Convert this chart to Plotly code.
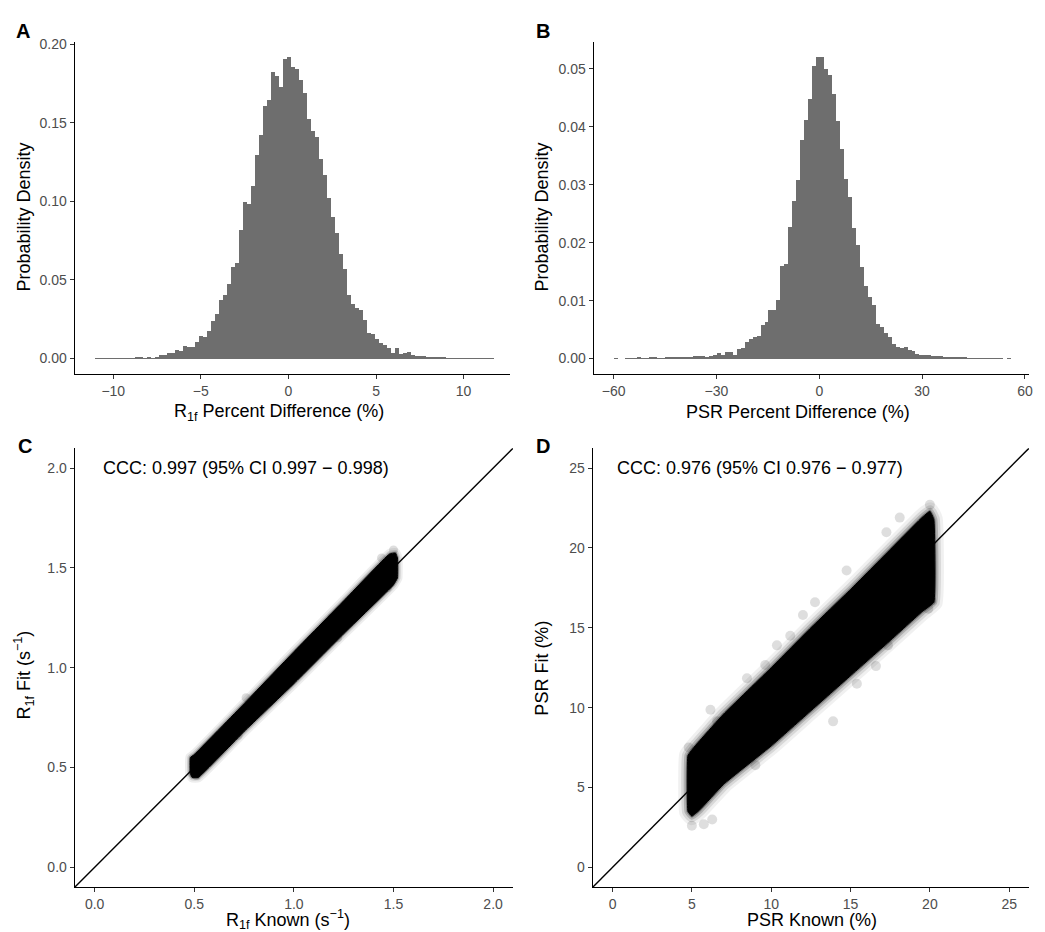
import plotly.graph_objects as go

# -----------------------------
# DATA
# -----------------------------

# Panel A: R1f percent difference histogram (100 bins)
HIST_A_START = -11.06
HIST_A_WIDTH = 0.228
HIST_A_DENSITY = [
    0.0001, 0.0001, 0.0001, 0.0001, 0.0002, 0.0003, 0.0003, 0.0002, 0.0004, 0.0003,
    0.0005, 0.0005, 0.0004, 0.0005, 0.0004, 0.0008, 0.0023, 0.0023, 0.0036, 0.0036,
    0.0054, 0.0050, 0.0084, 0.0076, 0.0078, 0.0105, 0.0145, 0.0140, 0.0175, 0.0242,
    0.0282, 0.0372, 0.0404, 0.0475, 0.0585, 0.0610, 0.0820, 0.0995, 0.0984, 0.1100,
    0.1295, 0.1426, 0.1610, 0.1650, 0.1825, 0.1800, 0.1727, 0.1910, 0.1920, 0.1857,
    0.1846, 0.1773, 0.1693, 0.1525, 0.1451, 0.1411, 0.1272, 0.1169, 0.1022, 0.0904,
    0.0801, 0.0669, 0.0572, 0.0404, 0.0349, 0.0320, 0.0311, 0.0248, 0.0164, 0.0158,
    0.0126, 0.0101, 0.0090, 0.0069, 0.0034, 0.0067, 0.0032, 0.0038, 0.0044, 0.0025,
    0.0017, 0.0020, 0.0015, 0.0012, 0.0010, 0.0008, 0.0006, 0.0005, 0.0004, 0.0004,
    0.0003, 0.0003, 0.0002, 0.0002, 0.0002, 0.0001, 0.0001, 0.0001, 0.0001, 0.0001,
]

# Panel B: PSR percent difference histogram (100 bins)
HIST_B_START = -60.1
HIST_B_WIDTH = 1.159
HIST_B_DENSITY = [
    0.0001, 0.0000, 0.0000, 0.0001, 0.0001, 0.0001, 0.0002, 0.0001, 0.0001, 0.0002,
    0.0002, 0.0001, 0.0001, 0.0002, 0.0002, 0.0002, 0.0003, 0.0003, 0.0003, 0.0003,
    0.0004, 0.0004, 0.0005, 0.0002, 0.0005, 0.0007, 0.0010, 0.0007, 0.0011, 0.0011,
    0.0007, 0.0017, 0.0019, 0.0029, 0.0034, 0.0038, 0.0040, 0.0058, 0.0063, 0.0084,
    0.0085, 0.0102, 0.0160, 0.0164, 0.0228, 0.0273, 0.0308, 0.0377, 0.0413, 0.0449,
    0.0506, 0.0521, 0.0521, 0.0500, 0.0490, 0.0458, 0.0410, 0.0363, 0.0310, 0.0280,
    0.0225, 0.0197, 0.0159, 0.0126, 0.0106, 0.0093, 0.0060, 0.0055, 0.0045, 0.0037,
    0.0025, 0.0021, 0.0019, 0.0020, 0.0015, 0.0013, 0.0008, 0.0007, 0.0006, 0.0007,
    0.0005, 0.0004, 0.0004, 0.0003, 0.0003, 0.0002, 0.0002, 0.0002, 0.0002, 0.0001,
    0.0001, 0.0001, 0.0001, 0.0001, 0.0001, 0.0001, 0.0001, 0.0001, 0.0000, 0.0001,
]

# Panel C: outline of the dense R1f known/fit point cloud
C_CLOUD_KNOWN = [0.48, 0.50, 0.75, 1.00, 1.25, 1.48, 1.51, 1.52,
                 1.52, 1.50, 1.25, 1.00, 0.75, 0.52, 0.49, 0.48]
C_CLOUD_FIT = [0.55, 0.565, 0.82, 1.08, 1.335, 1.57, 1.575, 1.55,
               1.45, 1.415, 1.17, 0.92, 0.68, 0.45, 0.45, 0.47]
C_OUT_KNOWN = [0.49, 0.51, 0.76, 0.72, 1.19, 1.22, 1.50, 1.47, 1.44]
C_OUT_FIT = [0.47, 0.46, 0.85, 0.66, 1.25, 1.15, 1.59, 1.40, 1.55]

# Panel D: outline of the dense PSR known/fit point cloud
D_CLOUD_KNOWN = [4.75, 5.2, 7.0, 10.0, 12.5, 15.0, 17.5, 19.5, 20.0, 20.25,
                 20.25, 19.5, 17.5, 15.0, 12.5, 10.0, 7.0, 5.5, 5.0, 4.75]
D_CLOUD_FIT = [7.0, 7.6, 9.6, 12.5, 15.0, 17.4, 19.9, 21.9, 22.3, 21.8,
               16.6, 16.0, 14.2, 12.0, 9.8, 7.6, 5.2, 3.6, 3.2, 3.5]
D_OUT_KNOWN = [6.17, 6.59, 8.47, 9.62, 10.36, 11.2, 12.0, 12.76, 14.75, 17.26,
               18.1, 20.0, 20.1, 17.36, 16.6, 15.4, 13.9, 11.8, 7.0, 6.28,
               5.75, 5.0, 4.8, 19.9, 14.1, 9.0]
D_OUT_FIT = [9.87, 9.14, 11.84, 12.67, 13.9, 14.5, 15.8, 16.6, 18.59, 20.98,
             21.9, 22.7, 16.7, 13.9, 12.6, 11.5, 9.14, 9.55, 7.06, 3.0,
             2.7, 2.6, 7.5, 16.2, 12.0, 6.4]

CCC_C = "CCC: 0.997 (95% CI 0.997 \u2212 0.998)"
CCC_D = "CCC: 0.976 (95% CI 0.976 \u2212 0.977)"

# -----------------------------
# STYLE
# -----------------------------

W, H = 1045, 932
FONT = "Liberation Sans, Arial, sans-serif"
BAR_GREY = "#6e6e6e"
TITLE_SIZE = 18
TICK_SIZE = 14


def px(x):
    return x / W


def py(y):
    return 1 - y / H


def axis_style(domain, rng, tickvals, fmt, anchor):
    return dict(
        domain=domain, range=rng, tickvals=tickvals, tickformat=fmt, anchor=anchor,
        showline=True, linecolor="black", linewidth=1.2,
        ticks="outside", ticklen=4, tickwidth=1, tickcolor="#333333",
        tickfont=dict(size=TICK_SIZE, color="#4d4d4d", family=FONT),
        showgrid=False, zeroline=False, fixedrange=True,
    )


fig = go.Figure()

# histograms
centers_a = [HIST_A_START + HIST_A_WIDTH * (i + 0.5) for i in range(len(HIST_A_DENSITY))]
centers_b = [HIST_B_START + HIST_B_WIDTH * (i + 0.5) for i in range(len(HIST_B_DENSITY))]

fig.add_trace(go.Bar(x=centers_a, y=HIST_A_DENSITY, width=HIST_A_WIDTH,
                     marker=dict(color=BAR_GREY, line_width=0),
                     xaxis="x", yaxis="y", showlegend=False))
fig.add_trace(go.Bar(x=centers_b, y=HIST_B_DENSITY, width=HIST_B_WIDTH,
                     marker=dict(color=BAR_GREY, line_width=0),
                     xaxis="x2", yaxis="y2", showlegend=False))

# outlying points (drawn first, under the dense cloud)
for xs, ys, size, ax, ay in [(C_OUT_KNOWN, C_OUT_FIT, 9, "x3", "y3"),
                             (D_OUT_KNOWN, D_OUT_FIT, 10, "x4", "y4")]:
    fig.add_trace(go.Scatter(x=xs, y=ys, mode="markers",
                             marker=dict(size=size, color="rgba(0,0,0,0.13)", line_width=0),
                             xaxis=ax, yaxis=ay, showlegend=False))

# dense clouds: soft halo layers then solid core
for xs, ys, halos, ax, ay in [(C_CLOUD_KNOWN, C_CLOUD_FIT, [(10, 0.07), (6, 0.12), (3, 0.25)], "x3", "y3"),
                              (D_CLOUD_KNOWN, D_CLOUD_FIT, [(18, 0.06), (12, 0.1), (7, 0.18), (3, 0.3)], "x4", "y4")]:
    cx, cy = xs + xs[:1], ys + ys[:1]
    for width, alpha in halos:
        fig.add_trace(go.Scatter(x=cx, y=cy, mode="lines",
                                 line=dict(color=f"rgba(0,0,0,{alpha})", width=width, shape="spline", smoothing=0.3),
                                 xaxis=ax, yaxis=ay, showlegend=False, hoverinfo="skip"))
    fig.add_trace(go.Scatter(x=cx, y=cy, mode="lines", fill="toself", fillcolor="black",
                             line=dict(color="black", width=1, shape="spline", smoothing=0.3),
                             xaxis=ax, yaxis=ay, showlegend=False, hoverinfo="skip"))

# identity lines
C_RANGE = [-0.1, 2.1]
D_RANGE = [-1.25, 26.25]
fig.add_trace(go.Scatter(x=C_RANGE, y=C_RANGE, mode="lines",
                         line=dict(color="black", width=1.4),
                         xaxis="x3", yaxis="y3", showlegend=False))
fig.add_trace(go.Scatter(x=D_RANGE, y=D_RANGE, mode="lines",
                         line=dict(color="black", width=1.4),
                         xaxis="x4", yaxis="y4", showlegend=False))

dom_top = [py(370), py(36)]
dom_bot = [py(887), py(445)]

fig.update_layout(
    width=W, height=H,
    margin=dict(l=0, r=0, t=0, b=0),
    paper_bgcolor="white", plot_bgcolor="white",
    font=dict(family=FONT, color="black"),
    bargap=0,
    xaxis=axis_style([px(75), px(512)], [-12.2, 12.65], [-10, -5, 0, 5, 10], "d", "y"),
    yaxis=axis_style(dom_top, [-0.0096, 0.2016], [0, 0.05, 0.10, 0.15, 0.20], ".2f", "x"),
    xaxis2=axis_style([px(596), px(1033)], [-65.8, 61.2], [-60, -30, 0, 30, 60], "d", "y2"),
    yaxis2=axis_style(dom_top, [-0.0026, 0.0547], [0, 0.01, 0.02, 0.03, 0.04, 0.05], ".2f", "x2"),
    xaxis3=axis_style([px(75), px(515)], C_RANGE, [0, 0.5, 1.0, 1.5, 2.0], ".1f", "y3"),
    yaxis3=axis_style(dom_bot, C_RANGE, [0, 0.5, 1.0, 1.5, 2.0], ".1f", "x3"),
    xaxis4=axis_style([px(595), px(1033)], D_RANGE, [0, 5, 10, 15, 20, 25], "d", "y4"),
    yaxis4=axis_style(dom_bot, D_RANGE, [0, 5, 10, 15, 20, 25], "d", "x4"),
)

annotations = []

# panel letters
for letter, x, y in [("A", 14, 25), ("B", 536, 25), ("C", 16, 443), ("D", 536, 443)]:
    annotations.append(dict(text=f"<b>{letter}</b>", x=px(x), y=py(y), xref="paper", yref="paper",
                            xanchor="left", yanchor="middle", showarrow=False,
                            font=dict(size=20, color="black", family=FONT)))

# axis titles
x_titles = [
    ("R<sub>1f</sub> Percent Difference (%)", 280, 409),
    ("PSR Percent Difference (%)", 801, 409),
    ("R<sub>1f</sub> Known (s<sup>\u22121</sup>)", 289, 919),
    ("PSR Known (%)", 815, 920),
]
for text, x, y in x_titles:
    annotations.append(dict(text=text, x=px(x), y=py(y), xref="paper", yref="paper",
                            xanchor="center", yanchor="middle", showarrow=False,
                            font=dict(size=TITLE_SIZE, color="black", family=FONT)))

y_titles = [
    ("Probability Density", 24, 212),
    ("Probability Density", 544, 212),
    ("R<sub>1f</sub> Fit (s<sup>\u22121</sup>)", 24, 673),
    ("PSR Fit (%)", 544, 666),
]
for text, x, y in y_titles:
    annotations.append(dict(text=text, x=px(x), y=py(y), xref="paper", yref="paper",
                            xanchor="center", yanchor="middle", textangle=-90, showarrow=False,
                            font=dict(size=TITLE_SIZE, color="black", family=FONT)))

# concordance labels
annotations.append(dict(text=CCC_C, x=0.03, y=2.0, xref="x3", yref="y3",
                        xanchor="left", yanchor="middle", showarrow=False,
                        font=dict(size=18, color="black", family=FONT)))
annotations.append(dict(text=CCC_D, x=0.15, y=25, xref="x4", yref="y4",
                        xanchor="left", yanchor="middle", showarrow=False,
                        font=dict(size=18, color="black", family=FONT)))

fig.update_layout(annotations=annotations)

# the page's default body margin would push the figure off the bottom edge
fig.write_html("out.html", config={"displayModeBar": False},
               post_script="document.body.style.margin='0';")
